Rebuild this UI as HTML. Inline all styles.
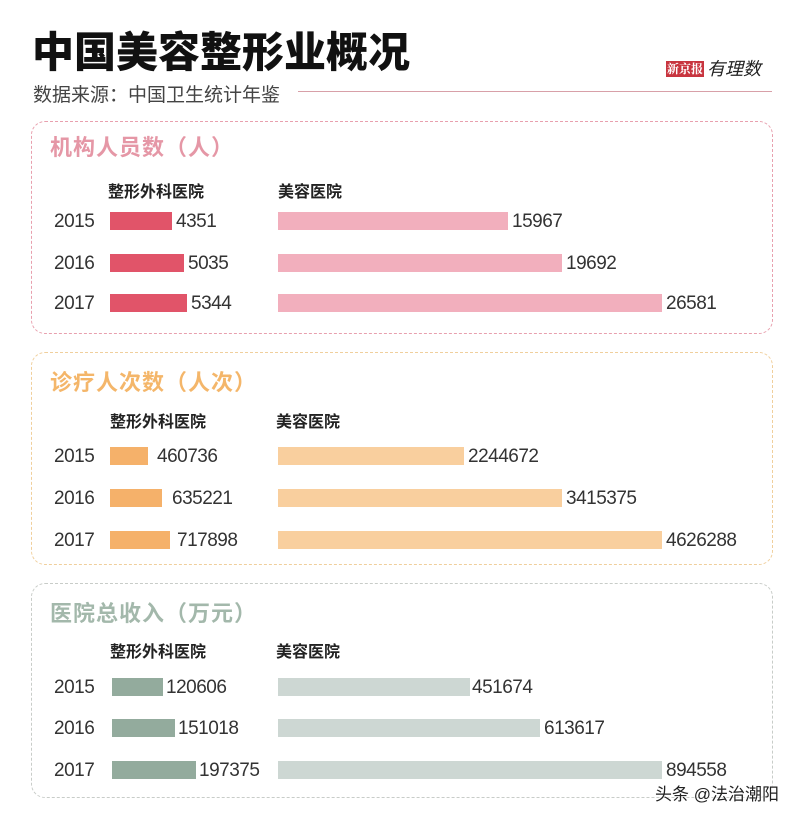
<!DOCTYPE html>
<html><head><meta charset="utf-8"><style>
body{margin:0;width:800px;height:819px;background:#fff;position:relative;overflow:hidden;font-family:"Liberation Sans","Noto Sans CJK SC",sans-serif}
.a{position:absolute;white-space:nowrap}
.box{position:absolute;border:1.5px dashed;border-radius:14px}
.h{font-size:22px;font-weight:bold;letter-spacing:1px}
.ch{font-size:16px;font-weight:bold;color:#222}
.y{font-size:19px;color:#333;letter-spacing:-0.5px}
.v{font-size:19px;color:#333;letter-spacing:-0.5px}
.b{position:absolute;height:18px}
</style></head><body>
<div class="a" style="left:32px;top:19px;font-size:42px;font-weight:900;color:#111">中国美容整形业概况</div>
<div class="a" style="left:33px;top:80px;font-size:19px;color:#444">数据来源：中国卫生统计年鉴</div>
<div class="a" style="left:298px;top:91px;width:474px;height:1px;background:#d8a0a8"></div>
<div class="a" style="left:666px;top:61px;width:38px;height:16px;background:#c8353f;color:#fff;font-size:12px;font-weight:bold;line-height:16px;text-align:center;font-family:'Noto Serif CJK SC',serif">新京报</div>
<div class="a" style="left:707px;top:55px;font-size:18px;font-style:italic;color:#222">有理数</div>

<div class="box" style="left:31px;top:121px;width:740px;height:211px;border-color:#e8a0ae"></div>
<div class="a h" style="left:50px;top:130px;color:#e597a6">机构人员数（人）</div>
<div class="a ch" style="left:108px;top:178px">整形外科医院</div>
<div class="a ch" style="left:278px;top:178px">美容医院</div>
<div class="a y" style="left:54px;top:211px">2015</div>
<div class="a y" style="left:54px;top:253px">2016</div>
<div class="a y" style="left:54px;top:293px">2017</div>
<div class="b" style="left:110px;top:212px;width:62px;background:#e15469"></div>
<div class="b" style="left:110px;top:254px;width:74px;background:#e15469"></div>
<div class="b" style="left:110px;top:294px;width:77px;background:#e15469"></div>
<div class="a v" style="left:176px;top:211px">4351</div>
<div class="a v" style="left:188px;top:253px">5035</div>
<div class="a v" style="left:191px;top:293px">5344</div>
<div class="b" style="left:278px;top:212px;width:230px;background:#f2afbd"></div>
<div class="b" style="left:278px;top:254px;width:284px;background:#f2afbd"></div>
<div class="b" style="left:278px;top:294px;width:384px;background:#f2afbd"></div>
<div class="a v" style="left:512px;top:211px">15967</div>
<div class="a v" style="left:566px;top:253px">19692</div>
<div class="a v" style="left:666px;top:293px">26581</div>

<div class="box" style="left:31px;top:352px;width:740px;height:211px;border-color:#f0cf9c"></div>
<div class="a h" style="left:50px;top:365px;color:#f4b66a">诊疗人次数（人次）</div>
<div class="a ch" style="left:110px;top:408px">整形外科医院</div>
<div class="a ch" style="left:276px;top:408px">美容医院</div>
<div class="a y" style="left:54px;top:446px">2015</div>
<div class="a y" style="left:54px;top:488px">2016</div>
<div class="a y" style="left:54px;top:530px">2017</div>
<div class="b" style="left:110px;top:447px;width:38px;background:#f5b16a"></div>
<div class="b" style="left:110px;top:489px;width:52px;background:#f5b16a"></div>
<div class="b" style="left:110px;top:531px;width:60px;background:#f5b16a"></div>
<div class="a v" style="left:157px;top:446px">460736</div>
<div class="a v" style="left:172px;top:488px">635221</div>
<div class="a v" style="left:177px;top:530px">717898</div>
<div class="b" style="left:278px;top:447px;width:186px;background:#f9cf9e"></div>
<div class="b" style="left:278px;top:489px;width:284px;background:#f9cf9e"></div>
<div class="b" style="left:278px;top:531px;width:384px;background:#f9cf9e"></div>
<div class="a v" style="left:468px;top:446px">2244672</div>
<div class="a v" style="left:566px;top:488px">3415375</div>
<div class="a v" style="left:666px;top:530px">4626288</div>

<div class="box" style="left:31px;top:583px;width:740px;height:213px;border-color:#c8ccc8"></div>
<div class="a h" style="left:50px;top:596px;color:#a3b8ab">医院总收入（万元）</div>
<div class="a ch" style="left:110px;top:638px">整形外科医院</div>
<div class="a ch" style="left:276px;top:638px">美容医院</div>
<div class="a y" style="left:54px;top:677px">2015</div>
<div class="a y" style="left:54px;top:718px">2016</div>
<div class="a y" style="left:54px;top:760px">2017</div>
<div class="b" style="left:112px;top:678px;width:51px;background:#93ab9d"></div>
<div class="b" style="left:112px;top:719px;width:63px;background:#93ab9d"></div>
<div class="b" style="left:112px;top:761px;width:84px;background:#93ab9d"></div>
<div class="a v" style="left:166px;top:677px">120606</div>
<div class="a v" style="left:178px;top:718px">151018</div>
<div class="a v" style="left:199px;top:760px">197375</div>
<div class="b" style="left:278px;top:678px;width:192px;background:#cdd7d3"></div>
<div class="b" style="left:278px;top:719px;width:262px;background:#cdd7d3"></div>
<div class="b" style="left:278px;top:761px;width:384px;background:#cdd7d3"></div>
<div class="a v" style="left:472px;top:677px">451674</div>
<div class="a v" style="left:544px;top:718px">613617</div>
<div class="a v" style="left:666px;top:760px">894558</div>

<div class="a" style="left:655px;top:780px;font-size:17px;color:#222;text-shadow:0 0 2px #fff,0 0 2px #fff">头条 @法治潮阳</div>
</body></html>
